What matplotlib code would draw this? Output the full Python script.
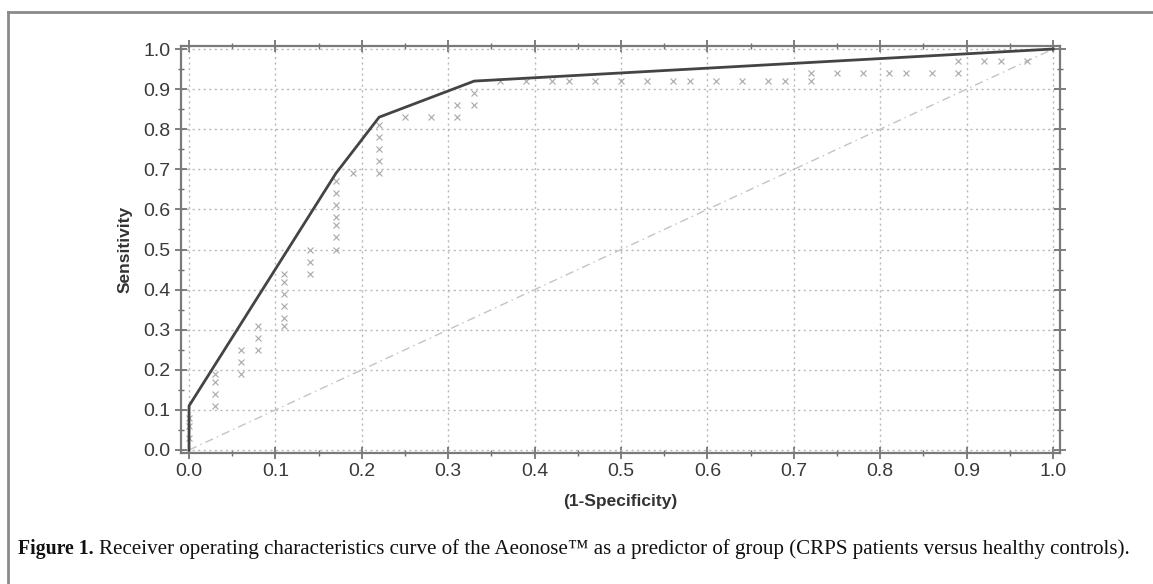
import numpy as np
import matplotlib.pyplot as plt
from matplotlib.ticker import MultipleLocator
from matplotlib.lines import Line2D

# ROC hull (solid line)
hull_fpr = [0.0, 0.0, 0.17, 0.22, 0.33, 1.0]
hull_tpr = [0.0, 0.11, 0.69, 0.83, 0.92, 1.0]

# individual operating points (grey crosses)
pts_fpr = [0.0, 0.0, 0.0,
           0.03, 0.03, 0.03, 0.03,
           0.06, 0.06, 0.06,
           0.08, 0.08, 0.08,
           0.11, 0.11, 0.11, 0.11, 0.11, 0.11,
           0.14, 0.14, 0.14,
           0.17, 0.17, 0.17, 0.17, 0.17, 0.17, 0.17,
           0.19,
           0.22, 0.22, 0.22, 0.22, 0.22,
           0.25, 0.28, 0.31, 0.31, 0.33, 0.33,
           0.36, 0.39, 0.42, 0.44, 0.47, 0.50, 0.53, 0.56, 0.58, 0.61, 0.64,
           0.67, 0.69, 0.72, 0.72, 0.75, 0.78, 0.81, 0.83, 0.86,
           0.89, 0.89, 0.92, 0.94, 0.97]
pts_tpr = [0.03, 0.06, 0.08,
           0.11, 0.14, 0.17, 0.19,
           0.19, 0.22, 0.25,
           0.25, 0.28, 0.31,
           0.31, 0.33, 0.36, 0.39, 0.42, 0.44,
           0.44, 0.47, 0.50,
           0.50, 0.53, 0.56, 0.58, 0.61, 0.64, 0.67,
           0.69,
           0.69, 0.72, 0.75, 0.78, 0.81,
           0.83, 0.83, 0.83, 0.86, 0.86, 0.89,
           0.92, 0.92, 0.92, 0.92, 0.92, 0.92, 0.92, 0.92, 0.92, 0.92, 0.92,
           0.92, 0.92, 0.92, 0.94, 0.94, 0.94, 0.94, 0.94, 0.94,
           0.94, 0.97, 0.97, 0.97, 0.97]

chance = [0.0, 1.0]

x_label = "(1-Specificity)"
y_label = "Sensitivity"

fig = plt.figure(figsize=(11.53, 5.84), dpi=100)
plt.rcParams['font.family'] = ['Liberation Sans', 'DejaVu Sans']

# page frame around figure + caption
fig.add_artist(Line2D([8/1153, 8/1153], [0, 1 - 12/584], transform=fig.transFigure,
                      color="#8a8a8a", lw=2))
fig.add_artist(Line2D([8/1153, 1], [1 - 12/584, 1 - 12/584], transform=fig.transFigure,
                      color="#8a8a8a", lw=2))

ax = fig.add_axes([181/1153, 1 - 453/584, (1060 - 181)/1153, (453 - 46)/584])

ax.plot(chance, chance, linestyle=(0, (6, 3, 1, 3)), color="#c4c4c4", lw=1.0, zorder=2)
ax.plot(pts_fpr, pts_tpr, linestyle="none", marker="x", ms=4, mew=0.8,
        color="#a8a8a8", zorder=3)
ax.plot(hull_fpr, hull_tpr, color="#444444", lw=2.0, zorder=4)

ax.set_xlim(-0.0093, 1.008)
ax.set_ylim(-0.0075, 1.0075)
ax.xaxis.set_major_locator(MultipleLocator(0.1))
ax.yaxis.set_major_locator(MultipleLocator(0.1))
ax.xaxis.set_minor_locator(MultipleLocator(0.05))
ax.yaxis.set_minor_locator(MultipleLocator(0.05))
ax.xaxis.set_major_formatter(plt.FormatStrFormatter("%.1f"))
ax.yaxis.set_major_formatter(plt.FormatStrFormatter("%.1f"))

ax.grid(True, which="major", linestyle=(0, (1.5, 2.5)), color="#b8b8b8", lw=1.0)

for s in ax.spines.values():
    s.set_color("#7a7a7a")
    s.set_linewidth(1.6)

ax.tick_params(which="major", direction="inout", length=9, width=1.2, color="#6a6a6a",
               labelsize=14, labelcolor="#3a3a3a", top=True, right=True, pad=3)
ax.tick_params(which="minor", direction="inout", length=5, width=1.0, color="#6a6a6a",
               top=True, right=True)

ax.set_xlabel(x_label, fontsize=12.5, fontweight="bold", color="#333333", labelpad=10)
ax.set_ylabel(y_label, fontsize=12.5, fontweight="bold", color="#333333", labelpad=8)

fig.text(18/1153, 1 - 549/584, "Figure 1.", fontsize=14.2, fontweight="bold",
         family="Liberation Serif", va="center", ha="left", color="#111111")
fig.text(99/1153, 1 - 549/584,
         "Receiver operating characteristics curve of the Aeonose\u2122 as a predictor of group "
         "(CRPS patients versus healthy controls).",
         fontsize=15.1, family="Liberation Serif", va="center", ha="left", color="#111111")

fig.savefig("out.png", dpi=100)
